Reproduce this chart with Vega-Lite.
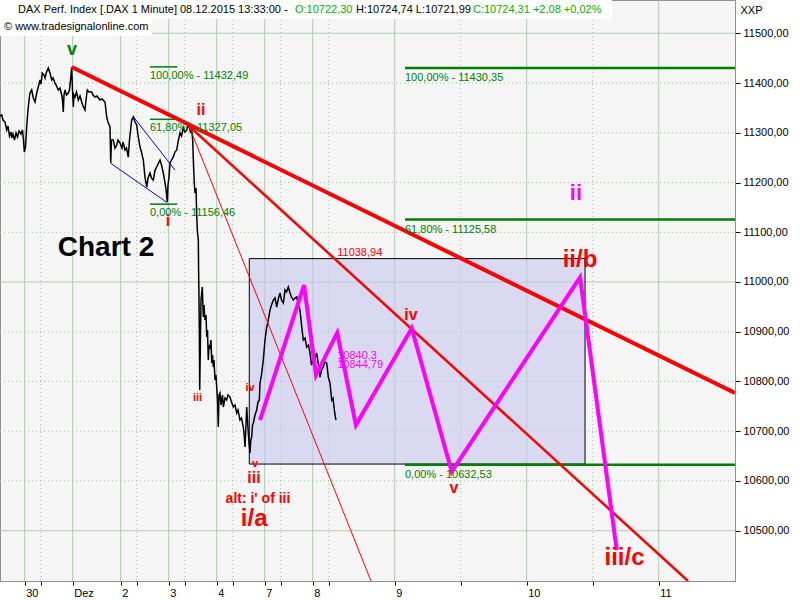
{
"$schema":"https://vega.github.io/schema/vega-lite/v6.json",
"width":735,"height":581,"padding":{"left":0,"top":0,"right":65,"bottom":19},"autosize":"none","background":"white",
"view":{"fill":"#f5f5f5","stroke":"#909090"},
"config":{"axis":{"labelFont":"Liberation Sans","labelFontSize":11,"labelColor":"#000000","titleFont":"Liberation Sans","titleFontSize":11,"titleFontWeight":"normal","titleColor":"#000000"}},
"datasets":{
"vSolid":[{"t":0,"p":10398.9,"p2":11566.9},{"t":1,"p":10398.9,"p2":11566.9},{"t":2,"p":10398.9,"p2":11566.9},{"t":3,"p":10398.9,"p2":11566.9},{"t":4,"p":10398.9,"p2":11566.9},{"t":5,"p":10398.9,"p2":11566.9},{"t":6,"p":10398.9,"p2":11566.9},{"t":7,"p":10398.9,"p2":11566.9},{"t":8,"p":10398.9,"p2":11566.9},{"t":9,"p":10398.9,"p2":11566.9}],
"vDot":[{"t":0.333,"p":10398.9,"p2":11566.9},{"t":2.333,"p":10398.9,"p2":11566.9},{"t":3.333,"p":10398.9,"p2":11566.9},{"t":4.333,"p":10398.9,"p2":11566.9},{"t":5.333,"p":10398.9,"p2":11566.9},{"t":6.333,"p":10398.9,"p2":11566.9},{"t":7.5,"p":10398.9,"p2":11566.9},{"t":8.5,"p":10398.9,"p2":11566.9}],
"hSolid":[{"p":10500,"t":-0.5146,"t2":9.5781},{"p":11000,"t":-0.5146,"t2":9.5781},{"p":11500,"t":-0.5146,"t2":9.5781}],
"hDot":[{"p":10600,"t":-0.5146,"t2":9.5781},{"p":10700,"t":-0.5146,"t2":9.5781},{"p":10800,"t":-0.5146,"t2":9.5781},{"p":10900,"t":-0.5146,"t2":9.5781},{"p":11100,"t":-0.5146,"t2":9.5781},{"p":11200,"t":-0.5146,"t2":9.5781},{"p":11300,"t":-0.5146,"t2":9.5781},{"p":11400,"t":-0.5146,"t2":9.5781}],
"price":[{"t":-0.515,"p":11333.7},{"t":-0.479,"p":11335.7},{"t":-0.452,"p":11325.6},{"t":-0.41,"p":11321.6},{"t":-0.375,"p":11305.5},{"t":-0.348,"p":11313.6},{"t":-0.317,"p":11293.5},{"t":-0.285,"p":11301.5},{"t":-0.271,"p":11289.4},{"t":-0.244,"p":11297.5},{"t":-0.213,"p":11285.4},{"t":-0.181,"p":11299.5},{"t":-0.15,"p":11291.5},{"t":-0.119,"p":11303.5},{"t":-0.077,"p":11297.5},{"t":-0.046,"p":11305.5},{"t":-0.025,"p":11285.4},{"t":-0.008,"p":11261.3},{"t":0.017,"p":11271.3},{"t":0.042,"p":11313.6},{"t":0.069,"p":11345.7},{"t":0.09,"p":11365.8},{"t":0.11,"p":11379.9},{"t":0.146,"p":11386.0},{"t":0.179,"p":11369.9},{"t":0.215,"p":11361.8},{"t":0.25,"p":11379.9},{"t":0.277,"p":11390.0},{"t":0.319,"p":11406.1},{"t":0.34,"p":11398.0},{"t":0.367,"p":11420.1},{"t":0.402,"p":11416.1},{"t":0.423,"p":11410.1},{"t":0.454,"p":11422.1},{"t":0.492,"p":11430.2},{"t":0.527,"p":11420.1},{"t":0.563,"p":11406.1},{"t":0.59,"p":11410.1},{"t":0.631,"p":11400.0},{"t":0.663,"p":11394.0},{"t":0.7,"p":11386.0},{"t":0.735,"p":11390.0},{"t":0.771,"p":11375.9},{"t":0.788,"p":11365.8},{"t":0.804,"p":11341.7},{"t":0.819,"p":11375.9},{"t":0.84,"p":11386.0},{"t":0.871,"p":11375.9},{"t":0.908,"p":11379.9},{"t":0.933,"p":11386.0},{"t":0.965,"p":11416.1},{"t":0.979,"p":11432.2},{"t":0.996,"p":11386.0},{"t":1.013,"p":11351.8},{"t":1.027,"p":11375.9},{"t":1.048,"p":11371.9},{"t":1.079,"p":11381.9},{"t":1.117,"p":11365.8},{"t":1.152,"p":11373.9},{"t":1.188,"p":11361.8},{"t":1.215,"p":11353.8},{"t":1.256,"p":11345.7},{"t":1.277,"p":11365.8},{"t":1.304,"p":11386.0},{"t":1.34,"p":11381.9},{"t":1.396,"p":11381.9},{"t":1.423,"p":11375.9},{"t":1.465,"p":11371.9},{"t":1.506,"p":11373.9},{"t":1.569,"p":11365.8},{"t":1.61,"p":11367.9},{"t":1.673,"p":11361.8},{"t":1.708,"p":11331.7},{"t":1.735,"p":11321.6},{"t":1.777,"p":11311.6},{"t":1.792,"p":11239.2},{"t":1.808,"p":11285.4},{"t":1.846,"p":11285.4},{"t":1.881,"p":11269.3},{"t":1.917,"p":11275.4},{"t":1.944,"p":11285.4},{"t":1.985,"p":11279.4},{"t":2.027,"p":11269.3},{"t":2.048,"p":11281.4},{"t":2.09,"p":11265.3},{"t":2.121,"p":11269.3},{"t":2.158,"p":11251.3},{"t":2.183,"p":11285.4},{"t":2.229,"p":11325.6},{"t":2.263,"p":11331.7},{"t":2.298,"p":11321.6},{"t":2.333,"p":11315.6},{"t":2.36,"p":11295.5},{"t":2.402,"p":11271.3},{"t":2.433,"p":11261.3},{"t":2.471,"p":11245.2},{"t":2.506,"p":11211.0},{"t":2.542,"p":11190.9},{"t":2.569,"p":11209.0},{"t":2.61,"p":11219.1},{"t":2.642,"p":11209.0},{"t":2.679,"p":11205.0},{"t":2.715,"p":11225.1},{"t":2.75,"p":11231.2},{"t":2.788,"p":11239.2},{"t":2.819,"p":11245.2},{"t":2.85,"p":11235.2},{"t":2.888,"p":11219.1},{"t":2.938,"p":11190.9},{"t":2.971,"p":11160.8},{"t":2.985,"p":11194.9},{"t":3.006,"p":11211.0},{"t":3.027,"p":11239.2},{"t":3.058,"p":11245.2},{"t":3.096,"p":11251.3},{"t":3.131,"p":11261.3},{"t":3.167,"p":11265.3},{"t":3.194,"p":11281.4},{"t":3.235,"p":11299.5},{"t":3.267,"p":11293.5},{"t":3.304,"p":11309.6},{"t":3.34,"p":11301.5},{"t":3.375,"p":11305.5},{"t":3.402,"p":11313.6},{"t":3.423,"p":11315.6},{"t":3.458,"p":11299.5},{"t":3.475,"p":11309.6},{"t":3.5,"p":11285.4},{"t":3.513,"p":11245.2},{"t":3.533,"p":11199.0},{"t":3.548,"p":11178.9},{"t":3.569,"p":11188.9},{"t":3.583,"p":11134.6},{"t":3.596,"p":11104.5},{"t":3.617,"p":11084.4},{"t":3.623,"p":11024.1},{"t":3.631,"p":10969.8},{"t":3.638,"p":10903.4},{"t":3.646,"p":10782.8},{"t":3.658,"p":10863.2},{"t":3.673,"p":10963.7},{"t":3.7,"p":10989.9},{"t":3.721,"p":10929.6},{"t":3.735,"p":10953.7},{"t":3.756,"p":10923.5},{"t":3.777,"p":10933.6},{"t":3.792,"p":10889.4},{"t":3.808,"p":10903.4},{"t":3.825,"p":10843.1},{"t":3.84,"p":10873.3},{"t":3.86,"p":10869.2},{"t":3.881,"p":10883.3},{"t":3.896,"p":10837.1},{"t":3.913,"p":10853.2},{"t":3.929,"p":10829.0},{"t":3.944,"p":10843.1},{"t":3.965,"p":10802.9},{"t":3.985,"p":10812.9},{"t":4.0,"p":10788.8},{"t":4.017,"p":10762.7},{"t":4.033,"p":10708.4},{"t":4.048,"p":10772.7},{"t":4.069,"p":10776.8},{"t":4.09,"p":10752.6},{"t":4.104,"p":10762.7},{"t":4.121,"p":10772.7},{"t":4.138,"p":10748.6},{"t":4.173,"p":10766.7},{"t":4.208,"p":10762.7},{"t":4.235,"p":10772.7},{"t":4.277,"p":10768.7},{"t":4.308,"p":10758.7},{"t":4.346,"p":10748.6},{"t":4.381,"p":10752.6},{"t":4.417,"p":10736.6},{"t":4.444,"p":10742.6},{"t":4.485,"p":10722.5},{"t":4.517,"p":10726.5},{"t":4.554,"p":10708.4},{"t":4.573,"p":10692.3},{"t":4.59,"p":10668.2},{"t":4.61,"p":10712.4},{"t":4.625,"p":10748.6},{"t":4.642,"p":10722.5},{"t":4.658,"p":10696.4},{"t":4.677,"p":10672.2},{"t":4.694,"p":10656.1},{"t":4.71,"p":10682.3},{"t":4.729,"p":10688.3},{"t":4.746,"p":10712.4},{"t":4.763,"p":10716.5},{"t":4.798,"p":10732.5},{"t":4.833,"p":10742.6},{"t":4.86,"p":10758.7},{"t":4.888,"p":10762.7},{"t":4.902,"p":10796.9},{"t":4.933,"p":10812.9},{"t":4.971,"p":10843.1},{"t":5.006,"p":10883.3},{"t":5.042,"p":10909.5},{"t":5.075,"p":10923.5},{"t":5.11,"p":10943.6},{"t":5.142,"p":10953.7},{"t":5.179,"p":10963.7},{"t":5.215,"p":10967.8},{"t":5.25,"p":10949.7},{"t":5.288,"p":10967.8},{"t":5.319,"p":10977.8},{"t":5.35,"p":10963.7},{"t":5.388,"p":10957.7},{"t":5.423,"p":10983.9},{"t":5.454,"p":10979.8},{"t":5.492,"p":10989.9},{"t":5.527,"p":10977.8},{"t":5.558,"p":10969.8},{"t":5.596,"p":10963.7},{"t":5.631,"p":10967.8},{"t":5.667,"p":10969.8},{"t":5.704,"p":10953.7},{"t":5.735,"p":10943.6},{"t":5.767,"p":10913.5},{"t":5.804,"p":10883.3},{"t":5.84,"p":10887.3},{"t":5.875,"p":10869.2},{"t":5.913,"p":10873.3},{"t":5.944,"p":10857.2},{"t":5.975,"p":10833.0},{"t":6.013,"p":10843.1},{"t":6.048,"p":10847.1},{"t":6.083,"p":10857.2},{"t":6.121,"p":10833.0},{"t":6.152,"p":10808.9},{"t":6.183,"p":10823.0},{"t":6.221,"p":10829.0},{"t":6.256,"p":10839.1},{"t":6.292,"p":10837.1},{"t":6.325,"p":10808.9},{"t":6.36,"p":10796.9},{"t":6.396,"p":10762.7},{"t":6.423,"p":10766.7},{"t":6.444,"p":10748.6},{"t":6.465,"p":10732.5},{"t":6.485,"p":10722.5}],
"zig":[{"t":4.902,"p":10722.5},{"t":5.819,"p":10993.9},{"t":6.069,"p":10812.9},{"t":6.496,"p":10898.0},{"t":6.66,"p":10712.4},{"t":7.129,"p":10906.8},{"t":7.432,"p":10618.6},{"t":8.404,"p":11009.4},{"t":8.682,"p":10461.1}],
"fibL":[{"t":2.61,"t2":3.179,"p":11432.49,"s":"100,00% - 11432,49"},{"t":2.61,"t2":3.179,"p":11327.05,"s":"61,80% - 11327,05"},{"t":2.61,"t2":3.179,"p":11156.46,"s":"0,00% - 11156,46"}],
"fibR":[{"t":7.078,"t2":9.578,"p":11430.35,"s":"100,00% - 11430,35"},{"t":7.078,"t2":9.578,"p":11125.58,"s":"61,80% - 11125,58"},{"t":7.078,"t2":9.578,"p":10632.53,"s":"0,00% - 10632,53"}],
"redThick":[{"t":0.979,"p":11432.2,"t2":9.578,"p2":10776.8}],
"redMed":[{"t":3.423,"p":11313.6,"t2":9.222,"p2":10398.9}],
"redThin":[{"t":3.423,"p":11313.6,"t2":6.792,"p2":10398.9}],
"blue":[{"t":1.792,"p":11238.6,"t2":2.971,"p2":11159.4},{"t":2.263,"p":11332.3,"t2":3.131,"p2":11225.1}],
"box":[{"t":4.679,"t2":8.442,"p":10634.0,"p2":11047.0}],
"hdrBox":[{"t":-0.52,"t2":8.646,"p":11528.7,"p2":11570},{"t":-0.52,"t2":2.652,"p":11494.5,"p2":11528.7}],
"hdrBlack":[{"t":-0.14,"p":11546.8,"s":"DAX Perf. Index [.DAX  1 Minute] 08.12.2015 13:33:00 -"},{"t":6.66,"p":11546.8,"s":"H:10724,74 L:10721,99"},{"t":-0.431,"p":11512.6,"s":"© www.tradesignalonline.com"}],
"hdrGreen":[{"t":5.631,"p":11546.8,"s":"O:10722,30"},{"t":7.593,"p":11546.8,"s":"C:10724,31 +2,08 +0,02%"}],
"red24":[{"t":8.404,"p":11044.2,"s":"ii/b"},{"t":8.741,"p":10445.0,"s":"iii/c"},{"t":4.781,"p":10523.4,"s":"i/a"}],
"red16":[{"t":3.673,"p":11345.7,"s":"ii"},{"t":2.985,"p":11122.6,"s":"i"},{"t":4.777,"p":10605.9,"s":"iii"},{"t":7.123,"p":10933.6,"s":"iv"},{"t":7.449,"p":10585.8,"s":"v"}],
"red11":[{"t":3.6,"p":10766.7,"s":"iii"},{"t":4.694,"p":10786.8,"s":"iv"},{"t":4.798,"p":10634.0,"s":"v"}],
"redAlt":[{"t":4.86,"p":10563.7,"s":"alt: i' of iii"}],
"redPlain":[{"t":6.496,"p":11058.0,"s":"11038,94"}],
"magPlain":[{"t":6.496,"p":10851.0,"s":"10840,3"},{"t":6.496,"p":10833.0,"s":"10844,79"}],
"magBig":[{"t":8.373,"p":11178.9,"s":"ii"}],
"greenBig":[{"t":0.985,"p":11466.4,"s":"v"}],
"chartLbl":[{"t":1.694,"p":11068.3,"s":"Chart 2"}]
},
"encoding":{
  "x":{"field":"t","type":"quantitative","scale":{"domain":[-0.5146,6.4854,7,9.5781],"range":[0,336,394.7,735],"nice":false,"zero":false},
   "axis":{"orient":"bottom","title":null,"values":[0,0.333,1,2,2.333,3,3.333,4,4.333,5,5.333,6,6.333,7,7.5,8,8.5,9],
    "labelExpr":"datum.value % 1 === 0 ? ['30','Dez','2','3','4','7','8','9','10','11'][datum.value] : ''",
    "labelAlign":"left","labelOffset":1,"labelPadding":2,"labelOverlap":false,"labelFlush":false,
    "domainColor":"#909090","tickColor":"#000000","tickSize":4,"grid":false}},
  "y":{"field":"p","type":"quantitative","scale":{"domain":[10398.9,11566.9],"nice":false,"zero":false},
   "axis":{"orient":"right","values":[10500,10600,10700,10800,10900,11000,11100,11200,11300,11400,11500],
    "labelExpr":"replace(format(datum.value, '.2f'), '.', ',')","labelPadding":3,"labelOverlap":false,
    "domainColor":"#909090","tickColor":"#000000","tickSize":5,"grid":false,
    "title":"XXP","titleAngle":0,"titleAlign":"left","titleBaseline":"middle","titleX":5,"titleY":10}}
},
"layer":[
{"data":{"name":"vSolid"},"mark":{"type":"rule","color":"#b0cab0","strokeWidth":1},"encoding":{"y2":{"field":"p2"}}},
{"data":{"name":"vDot"},"mark":{"type":"rule","color":"#a0bca0","strokeWidth":1,"strokeDash":[1,3]},"encoding":{"y2":{"field":"p2"}}},
{"data":{"name":"hSolid"},"mark":{"type":"rule","color":"#b0cab0","strokeWidth":1},"encoding":{"x2":{"field":"t2"}}},
{"data":{"name":"hDot"},"mark":{"type":"rule","color":"#a0bca0","strokeWidth":1,"strokeDash":[1,3]},"encoding":{"x2":{"field":"t2"}}},
{"data":{"name":"box"},"mark":{"type":"rect","fill":"#c6c6ef","fillOpacity":0.6,"stroke":"#000000","strokeWidth":1},
 "encoding":{"x2":{"field":"t2"},"y2":{"field":"p2"}}},
{"data":{"name":"price"},"mark":{"type":"line","color":"#000000","strokeWidth":1.5,"clip":true}},
{"data":{"name":"fibL"},"mark":{"type":"rule","color":"#008000","strokeWidth":1.5},
 "encoding":{"x2":{"field":"t2"}}},
{"data":{"name":"fibR"},"mark":{"type":"rule","color":"#008000","strokeWidth":2.5},
 "encoding":{"x2":{"field":"t2"}}},
{"data":{"name":"blue"},"mark":{"type":"rule","color":"#0000ff","strokeWidth":1},
 "encoding":{"x2":{"field":"t2"},"y2":{"field":"p2"}}},
{"data":{"name":"redThin"},"mark":{"type":"rule","color":"#ff0000","strokeWidth":1,"clip":true},
 "encoding":{"x2":{"field":"t2"},"y2":{"field":"p2"}}},
{"data":{"name":"redMed"},"mark":{"type":"rule","color":"#ff0000","strokeWidth":2.5,"clip":true},
 "encoding":{"x2":{"field":"t2"},"y2":{"field":"p2"}}},
{"data":{"name":"redThick"},"mark":{"type":"rule","color":"#ff0000","strokeWidth":4,"clip":true},
 "encoding":{"x2":{"field":"t2"},"y2":{"field":"p2"}}},
{"data":{"name":"zig"},"mark":{"type":"line","color":"#ff00ff","strokeWidth":4,"strokeJoin":"miter"}},
{"data":{"name":"fibL"},"mark":{"type":"text","color":"#008000","font":"Liberation Sans","fontSize":11,"align":"left","baseline":"middle","dy":9},
 "encoding":{"text":{"field":"s"}}},
{"data":{"name":"fibR"},"mark":{"type":"text","color":"#008000","font":"Liberation Sans","fontSize":11,"align":"left","baseline":"middle","dy":10},
 "encoding":{"text":{"field":"s"}}},
{"data":{"name":"hdrBox"},"mark":{"type":"rect","fill":"#ffffff","clip":true},
 "encoding":{"x2":{"field":"t2"},"y2":{"field":"p2"}}},
{"data":{"name":"hdrBlack"},"mark":{"type":"text","color":"#000000","font":"Liberation Sans","fontSize":11,"align":"left","baseline":"middle"},
 "encoding":{"text":{"field":"s"}}},
{"data":{"name":"hdrGreen"},"mark":{"type":"text","color":"#00b000","font":"Liberation Sans","fontSize":11,"align":"left","baseline":"middle"},
 "encoding":{"text":{"field":"s"}}},
{"data":{"name":"red24"},"mark":{"type":"text","color":"#ff0000","font":"Liberation Sans","fontSize":24,"fontWeight":"bold","align":"center","baseline":"middle"},
 "encoding":{"text":{"field":"s"}}},
{"data":{"name":"red16"},"mark":{"type":"text","color":"#ff0000","font":"Liberation Sans","fontSize":16,"fontWeight":"bold","align":"center","baseline":"middle"},
 "encoding":{"text":{"field":"s"}}},
{"data":{"name":"red11"},"mark":{"type":"text","color":"#ff0000","font":"Liberation Sans","fontSize":11,"fontWeight":"bold","align":"center","baseline":"middle"},
 "encoding":{"text":{"field":"s"}}},
{"data":{"name":"redAlt"},"mark":{"type":"text","color":"#ff0000","font":"Liberation Sans","fontSize":14,"fontWeight":"bold","align":"center","baseline":"middle"},
 "encoding":{"text":{"field":"s"}}},
{"data":{"name":"redPlain"},"mark":{"type":"text","color":"#ff0000","font":"Liberation Sans","fontSize":11,"align":"left","baseline":"middle"},
 "encoding":{"text":{"field":"s"}}},
{"data":{"name":"magPlain"},"mark":{"type":"text","color":"#ff00ff","font":"Liberation Sans","fontSize":11,"align":"left","baseline":"middle"},
 "encoding":{"text":{"field":"s"}}},
{"data":{"name":"magBig"},"mark":{"type":"text","color":"#ff00ff","font":"Liberation Sans","fontSize":22,"fontWeight":"bold","align":"center","baseline":"middle"},
 "encoding":{"text":{"field":"s"}}},
{"data":{"name":"greenBig"},"mark":{"type":"text","color":"#008000","font":"Liberation Sans","fontSize":18,"fontWeight":"bold","align":"center","baseline":"middle"},
 "encoding":{"text":{"field":"s"}}},
{"data":{"name":"chartLbl"},"mark":{"type":"text","color":"#000000","font":"Liberation Sans","fontSize":28,"fontWeight":"bold","align":"center","baseline":"middle"},
 "encoding":{"text":{"field":"s"}}}
]
}
